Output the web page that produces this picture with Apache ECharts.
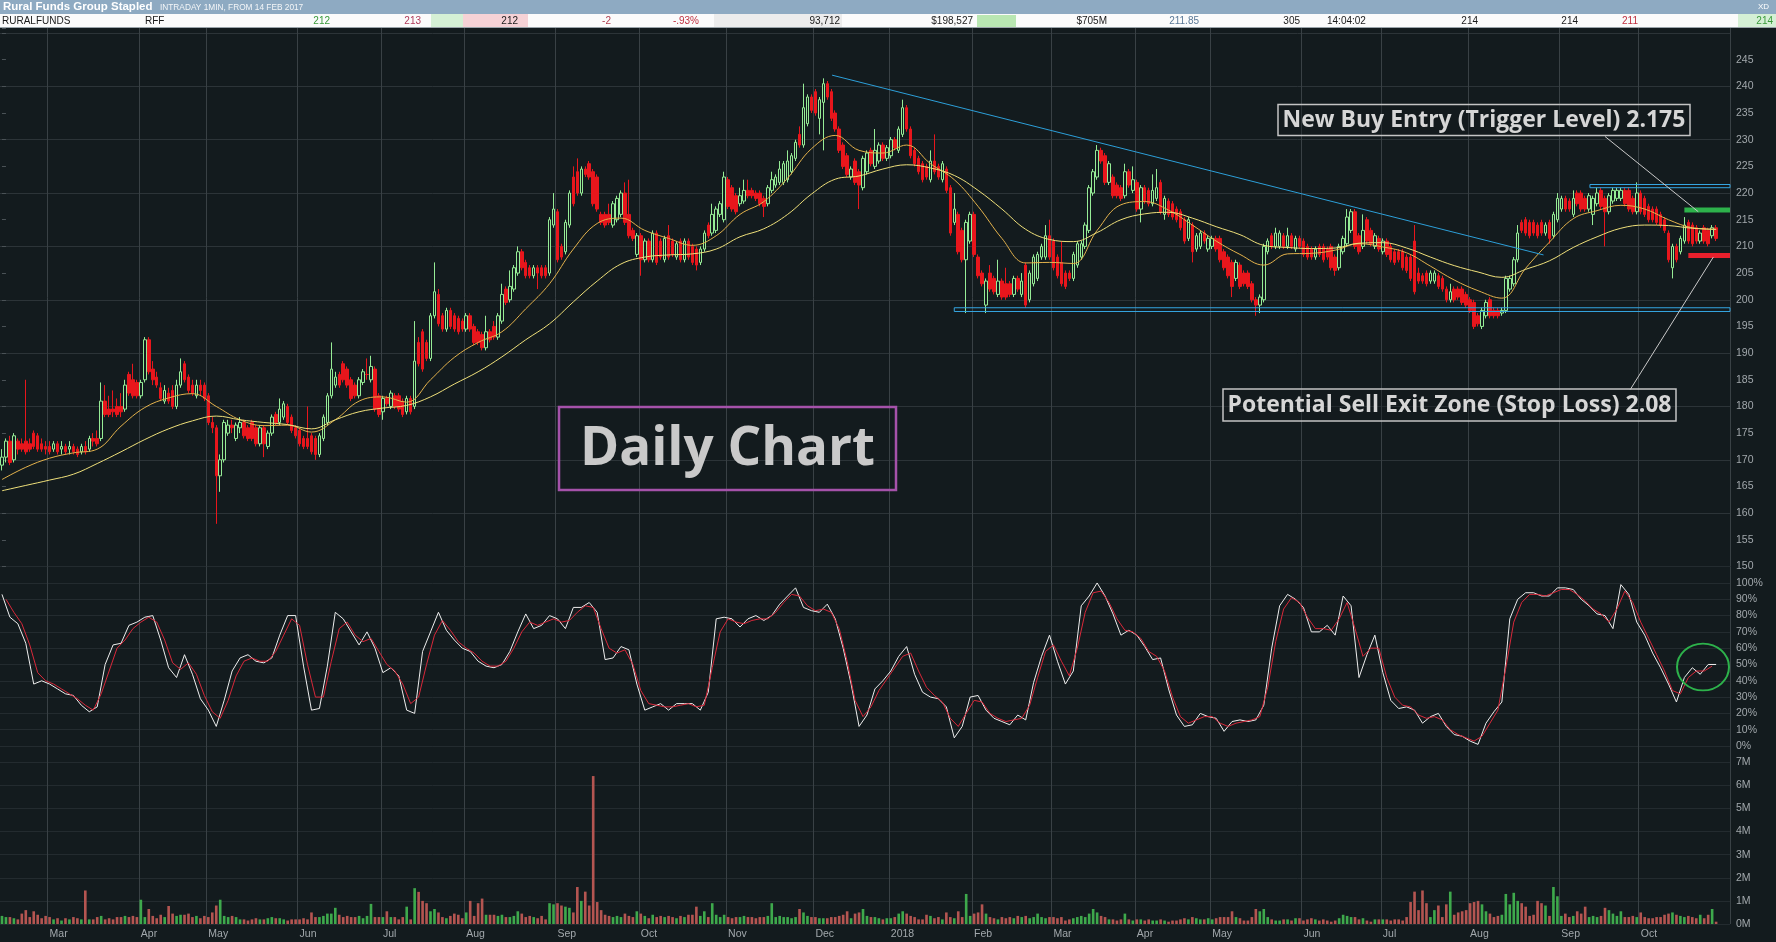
<!DOCTYPE html>
<html><head><meta charset="utf-8">
<script src="https://cdn.jsdelivr.net/npm/echarts/dist/echarts.min.js"></script>
<style>html,body{margin:0;padding:0;background:#131b1e;overflow:hidden}#c{width:1776px;height:942px}</style>
</head><body><div id="c"></div>
<script>
// ---------- DATA ----------
const monthLabels = ['Mar','Apr','May','Jun','Jul','Aug','Sep','Oct','Nov','Dec','2018','Feb','Mar','Apr','May','Jun','Jul','Aug','Sep','Oct'];
const monthStart  = [12,35,52,75,96,117,140,161,183,205,224,245,265,286,305,328,348,370,393,413];
const slotCount = 436;
const priceTicks = [150,155,160,165,170,175,180,185,190,195,200,205,210,215,220,225,230,235,240,245];

// daily candles [open, close, low, high] (cents)
const ohlc = [
// Feb 2017
[169,170.5,168,172],[170.5,173.5,169.5,174],[173.5,169.5,169,174.5],[170,174.5,169.5,175],[173.5,172,171,174],[173,172,171.5,174],[173.5,171.5,171,185],[173,172,171.5,174],[175,172.5,172,175.5],[174.5,172,171.5,175],[173,172,171.5,174],[172.5,172,171,173.5],
// Mar
[172.5,171.5,171,173.5],[172,173,171.5,173.5],[173,171.5,171,173.5],[172,172.5,171,173.5],[172.5,171.5,171,173],[172,172.5,171,173.5],[172.5,171.5,171,173],[172,171,170.5,172.5],[171.5,172.5,171,173],[172.5,171.5,171,173.5],[172,174,171.5,174.5],[174,173.5,172.5,175],[174,173,172.5,175.5],[174,181,173.5,184.5],[181,178.5,178,184],[179.5,178.5,178,182],[179.5,179,178,183],[180,178.5,178,181.5],[180,179,178,182.5],[179.5,184,179,185],[186,182.5,182,186.5],[185,182,181.5,188],[184.5,182,181.5,185],
// Apr
[182,184.5,181.5,185],[185,192.5,184.5,193],[192.5,186.5,186,193],[187,185,184,188.5],[185.5,184,183.5,186.5],[183.5,181.5,181,184.5],[181,183,180.5,184],[182.5,181,180.5,183.5],[183,180,179.5,184],[180,184,179.5,185],[184,186.5,183.5,189],[188,185,184.5,188.5],[185.5,183,182.5,186],[184,182.5,182,185],[182,184,181.5,185],[184,183,182,185],[184,181.5,181,184.5],
// May
[182,177,176.5,182.5],[177,176,175,178],[176,167,158,176.5],[167,170,164,171],[170,177,169.5,177.5],[175,176.5,174.5,177.5],[176.5,176,175,177.5],[174,176.5,173.5,177],[176,177,175,178],[177,174.5,174,177.5],[176,174,173.5,176.5],[177,174,173.5,177.5],[176,173,172.5,176.5],[173,176,172.5,176.5],[176,173,170.5,176.5],[172.5,175,172,175.5],[175,178,174.5,178.5],[178.5,177,176.5,179],[177,179.5,176.5,181.5],[178,180.5,177.5,181],[180,177,176.5,180.5],[178,175.5,175,178.5],[176,174.5,174,176.5],
// Jun
[175.5,173,172.5,176],[174,172.5,172,174.5],[174,172.5,172,180],[174.5,171.5,171,175],[174,171,170,174.5],[171,174.5,170.5,175],[174,178,173.5,178.5],[177,182,176.5,182.5],[182,187,181.5,192],[184,185.5,183.5,186.5],[186,184,183.5,186.5],[188,185,184.5,188.5],[187,184,183.5,187.5],[185,181.5,181,185.5],[184,182,181.5,184.5],[182,185,181.5,185.5],[184.5,186.5,184,187],[186,186,185,189],[185,187.5,184.5,189.5],[187,179.5,179,187.5],[182,178.5,178,182.5],
// Jul
[179,181.5,177.5,182],[181.5,180.5,180,182],[180,182.5,179.5,183],[182,180,179.5,182.5],[182,179.5,179,182.5],[181,178.5,178,181.5],[179,181.5,178.5,182],[181.5,179,178.5,182],[180,188.5,179.5,196],[192,188,187.5,193],[194,187,186.5,194.5],[192,189,188.5,192.5],[189,197,188.5,197.5],[197,201.5,196.5,207],[201,195.5,195,202],[197,194.5,194,197.5],[194.5,198,194,198.5],[198,195,194.5,198.5],[197,194.5,194,197.5],[196.5,194,193.5,197],[196,194.5,194,196.5],
// Aug
[194.5,197,194,197.5],[197,194.5,194,197.5],[195,192,191.5,195.5],[194,192,191.5,194.5],[193.5,191,190.5,194],[191,194,190.5,197],[194,192.5,192,194.5],[195,193,192.5,196],[193,197,192.5,197.5],[196,201,195.5,203],[202,199.5,199,202.5],[200,202.5,199.5,205.5],[202,206,201.5,206.5],[205,209,204.5,210],[209,206,205.5,209.5],[207,204.5,204,207.5],[206,204.5,204,206.5],[204.5,206,204,206.5],[206,205,202,206.5],[206,204.5,204,206.5],[206,204.5,204,206.5],[205,215,204.5,215.5],[214,217,213.5,220],
// Sep
[216.5,207.5,207,217],[210,208,207.5,210.5],[209,214.5,208.5,215],[214,220,213.5,220.5],[223,218,217.5,225],[224,220,219.5,226.5],[220,224.5,219.5,225],[224.5,223.5,223,225],[225.5,223,222.5,226],[224,218,217.5,224.5],[223,217,216.5,223.5],[216,214.5,214,216.5],[216,214,213.5,216.5],[216,214.5,214,218],[214,218,213.5,218.5],[215,219,214.5,219.5],[216,220,215.5,220.5],[220,214.5,214,222],[216,212,211.5,222.5],[213,211.5,211,213.5],[208.5,212,208,212.5],
// Oct
[212,207.5,204.5,212.5],[207.5,211,207,211.5],[211,207.5,207,211.5],[207.5,212.5,207,213],[212.5,207,206.5,213],[211,208,207.5,211.5],[207.5,211.5,207,212],[212,208,207.5,214],[211,208.5,208,211.5],[208,210.5,207.5,211],[211,207.5,207,211.5],[207.5,211,207,211.5],[211,208,207.5,211.5],[210,207,206.5,210.5],[209.5,206.5,205.5,210],[207,209.5,206.5,210],[209.5,212.5,209,213],[214,212,211.5,214.5],[212.5,216,212,218],[213,217,212.5,217.5],[216,218,215.5,218.5],[215,223,214.5,224],
// Nov
[222.5,217.5,217,223],[221,217,216.5,221.5],[219.5,216.5,216,220],[218,219.5,217.5,221],[218.5,220.5,218,222.5],[220.5,219.5,219,222.5],[220.5,219.5,219,221],[220,219,218.5,220.5],[220,218,217.5,220.5],[219,217.5,215.5,219.5],[218,221,217.5,221.5],[220.5,222.5,220,224],[221.5,223,221,223.5],[222,224.5,221.5,226],[222,225.5,221.5,226],[222.5,226,222,228],[224,227,223.5,227.5],[226.5,229.5,226,230],[231,229,228.5,232.5],[229,236,228.5,240.5],[233,238,232.5,238.5],[238,235.5,235,238.5],
// Dec
[239,235,234.5,239.5],[234,237.5,231,238],[237,240.5,228,241.5],[240.5,238,237.5,241],[239,234,233.5,239.5],[235,232,231.5,235.5],[232,228,227.5,232.5],[229,225,224.5,229.5],[227,223.5,223,227.5],[223,224.5,222.5,225],[226,222,221.5,226.5],[224,221.5,217,224.5],[221,226.5,220.5,227],[224,227.5,223.5,228],[228,225.5,225,228.5],[225,228,224.5,232],[226,229,225.5,229.5],[229,226.5,226,229.5],[226.5,228.5,226,229],
// Jan 2018
[227,230,226.5,230.5],[230,228.5,228,230.5],[228,232,227.5,232.5],[231,236,230.5,237.5],[236,232,231.5,236.5],[232,227,226.5,232.5],[228,225.5,225,228.5],[226.5,224,223.5,227],[225.5,222.5,222,226],[225,223,222.5,225.5],[222.5,226,222,228],[226,224,223.5,231],[225,223,222.5,225.5],[222.5,225.5,222,226],[224.5,220.5,220,225],[221,212.5,212,221.5],[214.5,217,214,220],[216,209,208.5,216.5],[213,207.5,207,213.5],[207.5,214.5,197.5,215],[211,216,210.5,216.5],
// Feb
[216,208.5,208,216.5],[208,204.5,204,208.5],[205,203,202.5,205.5],[199,203.5,197.5,204],[205,202,201.5,206.5],[204,201.5,201,204.5],[201,203.5,200.5,207.5],[203.5,200.5,200,204],[203,200.5,200,206],[203,201,200.5,203.5],[201,204,200.5,204.5],[204,202,201.5,204.5],[201,203.5,200.5,205],[206.5,199,198.5,207],[200,205,199.5,205.5],[203,208,202.5,208.5],[204,208.5,203.5,209],[208,210,207.5,210.5],[208,212,207.5,214],[212,208,207.5,215],
// Mar
[211,206,205.5,211.5],[208,204.5,204,208.5],[207,203,202.5,211],[205,202.5,202,205.5],[205,204,203.5,205.5],[204,208.5,203.5,209],[206.5,210.5,206,211],[208,210.5,207.5,211],[210,214,209.5,214.5],[213,221,212.5,221.5],[220,224,219.5,224.5],[223,228,222.5,229],[228,226,225.5,228.5],[227,222,221.5,227.5],[222,225.5,221.5,226],[223,219.5,219,223.5],[221.5,219.5,219,222],[221,219,218.5,221.5],[219.5,224,219,225.5],[224,221.5,221,224.5],[220.5,222.5,220,225],
// Apr
[222,217,216.5,222.5],[217,221,214.5,221.5],[221,218.5,218,221.5],[220.5,218,217.5,221],[218,220.5,217.5,223.5],[219,221,218.5,224.5],[222,216.5,216,222.5],[216,219,215,219.5],[218.5,216,215.5,219],[218,215.5,215,218.5],[217,215,214.5,217.5],[216.5,213.5,213,217],[215,211,210.5,215.5],[211.5,215,211,215.5],[214,209,207,214.5],[209.5,212,209,212.5],[210,212.5,209.5,213],[212.5,211,210.5,213],[209.5,211.5,209,212],
// May
[210,211.5,209.5,212],[211.5,209.5,209,212],[211.5,207.5,207,212],[209,206,205.5,209.5],[208,204.5,204,208.5],[207,202.5,200.5,207.5],[204,207,203.5,207.5],[206.5,202.5,202,207],[205,203,202.5,205.5],[205,202.5,202,205.5],[203,200,199.5,203.5],[200,199,197,200.5],[199,200.5,197.5,201],[200,210,199.5,210.5],[209,211,208.5,211.5],[212,210,209.5,212.5],[210,212.5,209.5,213.5],[210,212.5,209.5,213],[212,210,209.5,212.5],[210,212,209.5,213.5],[212,210,209.5,212.5],[209.5,211.5,209,212],[211.5,210,209.5,212],
// Jun
[211,208.5,208,211.5],[210,208,207.5,210.5],[209.5,208,207.5,210],[208,209.5,207.5,210],[210,208.5,208,210.5],[210,207.5,207,210.5],[209.5,208,207.5,210],[210,206,205.5,210.5],[208,205.5,204.5,208.5],[206,210,205.5,210.5],[209,211.5,208.5,212],[210.5,215.5,210,217],[213,216.5,212.5,217],[216.5,210,209.5,217],[212,209,208.5,212.5],[210,213,209.5,216],[215,211,210.5,215.5],[213,210.5,210,213.5],[210,212,209.5,212.5],[211.5,209.5,209,212],
// Jul
[209,211,208.5,211.5],[211,208.5,208,211.5],[210,207.5,207,210.5],[209,207,206.5,209.5],[209,207.5,207,209.5],[209,206,205.5,209.5],[208,205.5,205,208.5],[208,204,203.5,208.5],[211,201.5,201,214],[205,203.5,203,206],[204.5,203.5,203,205],[205,203,202.5,205.5],[203.5,205,203,205.5],[203.5,205,203,205.5],[204.5,202.5,202,205],[204,202,201.5,204.5],[202,200,199.5,202.5],[200,201.5,199.5,203],[202,200,199.5,202.5],[202,200.5,200,202.5],[202,199.5,199,202.5],[201,199,198.5,201.5],
// Aug
[200,198,197.5,200.5],[199.5,195,194.5,200],[197,195.5,195,197.5],[195,198,194.5,198.5],[197,199.5,196.5,200],[200,197,196.5,200.5],[198,197,196.5,198.5],[198,197,196.5,198.5],[197.5,198,197,198.5],[198,204,197.5,204.5],[202,204,201.5,204.5],[203,207.5,202.5,208],[207.5,212.5,207,214],[214.5,213,212.5,215],[215,212.5,212,215.5],[214.5,212,211.5,215],[214.5,212.5,212,215],[214,212,211.5,214.5],[214.5,212.5,212,215],[212.5,214,212,214.5],[214.5,211.5,210.5,215],[212,216,211.5,216.5],[215,219,214.5,220],
// Sep
[217,219,216.5,219.5],[219,217,216.5,219.5],[218.5,217,216.5,219],[216,219,215.5,220.5],[220,218,217.5,220.5],[220,217,216.5,220.5],[219,217,216.5,219.5],[217,219.5,216.5,220],[216,219,214,219.5],[218,220,217.5,221],[220.5,217.5,217,221],[219,216.5,210,219.5],[216.5,219.5,216,220],[218.5,220.5,218,221],[219,220.5,218.5,221],[219,220.5,218.5,221],[220.5,218,217.5,221],[220.5,217,216.5,221],[219,216.5,216,219.5],[216.5,220,216,222],
// Oct
[220,216.5,216,220.5],[219,216,215.5,219.5],[217.5,215,214.5,218],[217,215,214.5,217.5],[217,214.5,214,217.5],[216,214,213.5,216.5],[215,213,212.5,215.5],[212.5,207.5,207,213],[206,210,204,210.5],[210,207.5,207,210.5],[209,211.5,208.5,212],[211,214,210.5,215.5],[214.5,211,210.5,215],[214,210.5,210,214.5],[213.5,211,210.5,214],[211,212.5,210.5,213],[213.5,211,210.5,214],[213,210.5,210,213.5],[212,213.5,211.5,214],[213.5,211.5,211,214]
];

// daily volume (millions)
const volume = [
0.35,0.3,0.3,0.25,0.2,0.45,0.6,0.3,0.55,0.4,0.25,0.35,
0.3,0.2,0.25,0.15,0.25,0.2,0.3,0.25,0.2,1.45,0.2,0.2,0.3,0.35,0.2,0.25,0.2,0.3,0.3,0.35,0.3,0.35,0.3,
1.05,0.3,0.65,0.35,0.25,0.4,0.3,0.78,0.45,0.35,0.4,0.4,0.45,0.3,0.35,0.25,0.35,
0.3,0.5,0.8,1.05,0.35,0.3,0.35,0.3,0.2,0.2,0.15,0.2,0.25,0.2,0.2,0.25,0.3,0.25,0.25,0.2,0.15,0.2,0.2,
0.2,0.25,0.2,0.5,0.3,0.3,0.35,0.45,0.45,0.7,0.4,0.3,0.35,0.3,0.3,0.35,0.25,0.35,0.87,0.3,0.3,
0.3,0.55,0.3,0.3,0.2,0.3,0.75,0.2,1.55,1.39,1.0,0.9,0.55,0.65,0.5,0.3,0.25,0.35,0.45,0.4,0.25,
0.5,1.0,0.35,0.9,1.1,0.4,0.4,0.4,0.35,0.4,0.3,0.3,0.35,0.55,0.45,0.3,0.35,0.3,0.25,0.35,0.2,0.9,0.85,
0.9,0.8,0.75,0.7,0.5,1.6,1.0,1.4,0.8,6.4,0.95,0.6,0.4,0.35,0.3,0.35,0.3,0.45,0.35,0.3,0.55,
0.45,0.35,0.25,0.4,0.3,0.35,0.3,0.35,0.3,0.25,0.35,0.3,0.4,0.4,0.75,0.35,0.55,0.3,0.9,0.4,0.3,0.4,
0.3,0.25,0.3,0.3,0.35,0.3,0.3,0.25,0.3,0.3,0.35,0.9,0.3,0.35,0.3,0.3,0.25,0.3,0.65,0.5,0.35,0.3,
0.3,0.25,0.25,0.25,0.3,0.3,0.35,0.4,0.55,0.25,0.45,0.5,0.65,0.35,0.3,0.3,0.25,0.2,0.25,
0.25,0.3,0.45,0.55,0.45,0.35,0.3,0.2,0.2,0.4,0.35,0.25,0.3,0.2,0.5,0.3,0.25,0.55,0.3,1.3,0.35,
0.45,0.5,0.85,0.45,0.3,0.25,0.2,0.3,0.25,0.3,0.25,0.35,0.3,0.35,0.25,0.3,0.45,0.3,0.25,0.3,
0.3,0.25,0.3,0.15,0.2,0.25,0.3,0.35,0.3,0.45,0.65,0.5,0.35,0.3,0.2,0.2,0.15,0.2,0.45,0.2,0.15,
0.2,0.2,0.15,0.2,0.15,0.15,0.2,0.15,0.1,0.15,0.15,0.2,0.25,0.2,0.3,0.25,0.2,0.2,0.25,
0.2,0.25,0.3,0.3,0.3,0.55,0.3,0.25,0.15,0.15,0.3,0.65,0.55,0.65,0.3,0.2,0.15,0.15,0.2,0.2,0.15,0.25,0.25,
0.15,0.2,0.25,0.2,0.15,0.2,0.15,0.1,0.15,0.25,0.4,0.35,0.3,0.3,0.2,0.25,0.15,0.1,0.2,0.2,
0.2,0.2,0.15,0.2,0.2,0.15,0.3,0.95,1.4,0.6,1.45,0.9,0.3,0.6,0.8,0.3,0.85,1.4,0.4,0.5,0.55,0.6,
0.9,0.95,1.0,0.85,0.55,0.45,0.3,0.35,0.4,1.3,0.85,1.35,1.0,0.9,0.75,0.35,0.4,1.0,0.9,0.8,0.35,1.6,1.2,
0.35,0.45,0.3,0.35,0.55,0.45,0.75,0.3,0.35,0.3,0.35,0.7,0.6,0.45,0.35,0.55,0.3,0.3,0.35,0.3,
0.5,0.3,0.25,0.25,0.3,0.3,0.4,0.45,0.5,0.4,0.35,0.3,0.35,0.3,0.25,0.4,0.25,0.4,0.65,0.1
];

// stochastic %K (every 2nd day from day 0) and %D (every 2nd day from day 1)
const stochK = [93,79,75,63,38,40,38,35,32,31,25,21,24,50,62,63,74,76,79,80,65,48,42,56,44,29,22,12,28,46,54,56,52,51,54,68,80,80,49,22,23,49,82,78,70,62,70,60,45,48,43,22,20,58,70,82,71,65,60,58,52,49,48,50,58,70,81,72,74,80,78,72,85,85,88,82,53,54,61,59,38,22,24,26,22,26,26,26,22,33,78,79,78,73,78,80,77,80,87,92,97,85,83,82,87,78,60,38,12,19,35,40,46,55,61,44,33,30,29,24,5,12,30,31,22,17,15,13,19,16,39,55,68,52,38,46,86,92,100,92,81,68,71,68,61,53,54,35,19,12,13,20,18,17,9,15,16,15,16,25,60,86,93,90,85,70,70,74,68,92,86,42,56,68,45,28,23,24,22,14,18,20,12,7,6,3,1,14,21,27,78,90,94,94,92,92,97,97,96,90,86,81,80,72,99,93,76,68,57,48,38,27,42,48,44,50,50];
const stochD = [90,82,75,62,45,40,38,35,32,29,25,22,32,46,60,65,72,76,79,76,65,51,47,51,44,31,21,17,28,43,52,54,52,52,58,68,78,74,50,30,30,52,72,76,68,64,66,58,50,46,38,26,30,50,68,77,71,64,60,57,52,49,49,52,60,70,76,74,76,78,76,77,82,86,85,72,60,57,59,50,34,26,25,24,24,25,26,24,25,48,70,78,76,75,77,78,78,82,88,93,92,86,83,84,82,72,52,28,18,24,34,41,48,55,57,46,36,31,27,17,12,20,28,27,20,17,15,16,17,25,42,58,62,52,43,60,82,94,95,88,78,71,70,66,58,55,46,30,18,14,16,18,18,14,12,14,15,16,18,36,64,84,91,88,79,72,72,71,78,88,72,55,60,60,42,30,25,24,19,17,18,16,10,7,5,3,6,14,22,48,76,88,93,93,92,94,96,96,93,89,84,81,76,84,95,88,76,66,56,46,34,32,42,46,46,49];

// moving averages (every 6th day from day 0)
const maFast = [166.3,168.6,170.3,171.3,172,176.3,179.8,181.6,182.4,180,177.5,176.4,176.5,175.2,177.5,181,181.8,180.8,185,189.2,192,194,198.3,203,209.5,214.3,215.3,213,211.5,210.2,212,216,218.4,222.8,228.3,230.8,228,227.5,229,225.5,222.5,217.5,211.5,206.9,207,206.8,213,217.8,218.4,216.8,214,211,208.5,206.5,208.6,208.7,209.3,210.5,209.9,208.8,206.3,203.7,201.7,200.3,205.9,210.8,215.2,216.7,217.7,217,215,213.5,213.2];
const maSlow = [164.2,165.2,166.2,167.3,169.3,171.5,173.8,175.8,177.3,178.2,177.5,177,176.6,175.8,177.5,179,179.7,180.2,181.8,184.2,186.5,189.3,192.5,195.5,199.6,203.5,206.7,208,208.4,208.6,209.5,211.8,213.3,216,219.8,222.6,223.2,224.5,225.3,224.7,223.3,220.5,217,213.2,211.3,210.9,212.6,215,216.1,216.4,215.3,213.7,212.2,210.2,209.8,209.6,209.7,210.6,210.7,209.7,208,206.4,205.2,204.2,205.7,207.3,209.8,211.8,213.4,214,213.9,213.4,213.2];

// annotations in data space [day, price]
const trendLine   = [[209.2,242.1],[388.5,208.4]];
const supportBox  = {from:240, to:435.5, lo:197.8, hi:198.5};
const resistBox   = {from:400.2, to:435.5, lo:221.0, hi:221.6};
const buyLevel    = {from:424, to:435.5, value:216.8};
const stopLevel   = {from:425, to:435.5, value:208.3};
const buyCallout  = [[404,230.6],[427.5,216.5]];
const stopCallout = [[410.3,183.1],[431.3,208.0]];

// ---------- CHART ----------
const BG = '#131b1e';
const UP = '#96ec96', DOWN = '#e8161c';
const VUP = '#3ea94c', VDOWN = '#b45551';
const AXC = '#a2a8ac';
const LBLFONT = 'Liberation Sans';
const monthMap = {}; monthStart.forEach((s,k)=>monthMap[s]=monthLabels[k]);
const isMonth = (i)=> monthMap[i] !== undefined;
const cats = Array.from({length: slotCount}, (_, i) => String(i));

const gridL = 0, gridR = 46;
const grids = [
  {left:gridL, right:gridR, top:28, height:538.5},
  {left:gridL, right:gridR, top:566.5, height:179.5},
  {left:gridL, right:gridR, top:746, height:178}
];
function xCat(g, showLabel){
  return {type:'category', gridIndex:g, data:cats, boundaryGap:true,
    axisLine:{show:false}, axisTick:{show:false},
    axisLabel:{show:showLabel, interval:(i)=>isMonth(i), formatter:(v,i)=>monthMap[i]||'',
      align:'left', color:AXC, fontSize:10.5, fontFamily:LBLFONT, margin:5},
    splitLine:{show:true, interval:(i)=>isMonth(i), lineStyle:{color:'#394145', width:1}}};
}
const priceMax = 150 + 538.5/5.335;
const yAxes = [
  {type:'value', gridIndex:0, position:'right', min:150, max:priceMax, interval:5,
   axisLine:{show:false}, axisTick:{show:true, length:4, lineStyle:{color:'#4a5256'}},
   axisLabel:{color:AXC, fontSize:10.5, fontFamily:LBLFONT, margin:6,
     formatter:(v)=> priceTicks.indexOf(Math.round(v*100)/100)>=0 ? String(v) : ''},
   splitLine:{show:true, lineStyle:{color:['#2c3438','rgba(0,0,0,0)']}}},
  {type:'value', gridIndex:1, position:'right', min:0, max:110.1, interval:10,
   axisLine:{show:false}, axisTick:{show:false},
   axisLabel:{color:AXC, fontSize:10.5, fontFamily:LBLFONT, margin:6,
     formatter:(v)=> (v<=100 && Math.abs(v-Math.round(v))<1e-6) ? v+'%' : ''},
   splitLine:{show:true, lineStyle:{color:'#232b2f'}}},
  {type:'value', gridIndex:2, position:'right', min:0, max:7.7, interval:1,
   axisLine:{show:false}, axisTick:{show:false},
   axisLabel:{color:AXC, fontSize:10.5, fontFamily:LBLFONT, margin:6,
     formatter:(v)=> (v<=7 && Math.abs(v-Math.round(v))<1e-6) ? v+'M' : ''},
   splitLine:{show:true, lineStyle:{color:'#232b2f'}}}
];
const xAxes = [xCat(0,false), xCat(1,false), xCat(2,true),
  {type:'value', gridIndex:0, min:-0.5, max:slotCount-0.5, show:false}];

function ann(data, color, width){
  return {type:'line', xAxisIndex:3, yAxisIndex:0, data:data, showSymbol:false, symbol:'none',
    silent:true, z:5, lineStyle:{color:color, width:width}};
}
function box(b, color){
  return ann([[b.from,b.lo],[b.to,b.lo],[b.to,b.hi],[b.from,b.hi],[b.from,b.lo]], color, 1);
}
function level(l, color){ return ann([[l.from,l.value],[l.to,l.value]], color, 5); }

const series = [
  {type:'candlestick', xAxisIndex:0, yAxisIndex:0, data:ohlc, barWidth:3, z:3,
   itemStyle:{color:BG, color0:DOWN, borderColor:UP, borderColor0:DOWN, borderWidth:1}},
  {type:'line', xAxisIndex:0, yAxisIndex:0, data:maFast.map((v,i)=>[i*6,v]), showSymbol:false, symbol:'none', smooth:0.4, z:4,
   lineStyle:{color:'#e3b24c', width:1}},
  {type:'line', xAxisIndex:0, yAxisIndex:0, data:maSlow.map((v,i)=>[i*6,v]), showSymbol:false, symbol:'none', smooth:0.4, z:4,
   lineStyle:{color:'#efe07a', width:1}},
  {type:'line', xAxisIndex:1, yAxisIndex:1, data:stochK.map((v,i)=>[i*2,v]), showSymbol:false, symbol:'none', z:3,
   lineStyle:{color:'#eeeeee', width:1}},
  {type:'line', xAxisIndex:1, yAxisIndex:1, data:stochD.map((v,i)=>[i*2+1,v]), showSymbol:false, symbol:'none', z:4,
   lineStyle:{color:'#d9283a', width:1}},
  {type:'bar', xAxisIndex:2, yAxisIndex:2, barWidth:'66%',
   data:volume.map((v,i)=>({value:v, itemStyle:{color: (ohlc[i] && ohlc[i][1]>=ohlc[i][0]) ? VUP : VDOWN}}))},
  ann(trendLine, '#2c9fd9', 1),
  box(supportBox, '#35a6e2'),
  box(resistBox, '#35a6e2'),
  level(buyLevel, '#2db24b'),
  level(stopLevel, '#e8202c'),
  ann(buyCallout, '#c9c9c9', 1),
  ann(stopCallout, '#c9c9c9', 1)
];

// header + callout text boxes
const HF = '"Liberation Sans"';
function txt(x, y, s, color, align, font){
  return {type:'text', x:x, y:y, z:100, style:{text:s, fill:color, align:align||'left', verticalAlign:'middle', font:font||('10px '+HF)}};
}
const graphic = [
  {type:'rect', z:90, shape:{x:0,y:0,width:1776,height:14}, style:{fill:'#8eaac2'}},
  txt(3, 7, 'Rural Funds Group Stapled', '#ffffff', 'left', 'bold 11.5px '+HF),
  txt(160, 7.5, 'INTRADAY 1MIN, FROM 14 FEB 2017', '#f4f6f8', 'left', '8.3px '+HF),
  txt(1758, 7, 'XD', '#ffffff', 'left', '8px '+HF),
  {type:'rect', z:90, shape:{x:0,y:14,width:1776,height:14}, style:{fill:'#fbfbfb'}},
  {type:'rect', z:91, shape:{x:431,y:14,width:32,height:14}, style:{fill:'#d5f0d5'}},
  {type:'rect', z:91, shape:{x:463,y:14,width:65,height:14}, style:{fill:'#f6d2d6'}},
  {type:'rect', z:91, shape:{x:714,y:14,width:128,height:14}, style:{fill:'#ececec'}},
  {type:'rect', z:91, shape:{x:977,y:15,width:39,height:12}, style:{fill:'#b9e7b2'}},
  {type:'rect', z:91, shape:{x:1738,y:14,width:38,height:14}, style:{fill:'#d5f0d5'}},
  {type:'line', z:92, shape:{x1:0,y1:27.5,x2:1776,y2:27.5}, style:{stroke:'#9aa4aa', lineWidth:1}},
  txt(2, 21, 'RURALFUNDS', '#1a1a1a'),
  txt(145, 21, 'RFF', '#1a1a1a'),
  txt(330, 21, '212', '#3a9a3a', 'right'),
  txt(421, 21, '213', '#b03a5a', 'right'),
  txt(518, 21, '212', '#1a1a1a', 'right'),
  txt(611, 21, '-2', '#b04050', 'right'),
  txt(699, 21, '-.93%', '#c03040', 'right'),
  txt(840, 21, '93,712', '#1a1a1a', 'right'),
  txt(973, 21, '$198,527', '#1a1a1a', 'right'),
  txt(1107, 21, '$705M', '#1a1a1a', 'right'),
  txt(1199, 21, '211.85', '#5a7896', 'right'),
  txt(1300, 21, '305', '#1a1a1a', 'right'),
  txt(1327, 21, '14:04:02', '#1a1a1a', 'left'),
  txt(1478, 21, '214', '#1a1a1a', 'right'),
  txt(1578, 21, '214', '#1a1a1a', 'right'),
  txt(1638, 21, '211', '#c03040', 'right'),
  txt(1773, 21, '214', '#3a9a3a', 'right'),
  // callouts
  {type:'rect', z:60, shape:{x:1278,y:104.5,width:412,height:31}, style:{fill:'rgba(19,27,30,0.35)', stroke:'#c4c4c4', lineWidth:1.5}},
  txt(1484, 120.5, 'New Buy Entry (Trigger Level) 2.175', '#d6d6d6', 'center', 'bold 23px "Open Sans"'),
  {type:'rect', z:60, shape:{x:1223,y:389,width:453,height:32}, style:{fill:'rgba(19,27,30,0.35)', stroke:'#c4c4c4', lineWidth:1.5}},
  txt(1449.5, 405.5, 'Potential Sell Exit Zone (Stop Loss) 2.08', '#d6d6d6', 'center', 'bold 23px "Open Sans"'),
  {type:'rect', z:60, shape:{x:559,y:407,width:337,height:83}, style:{fill:'none', stroke:'#a552aa', lineWidth:2.5}},
  txt(727.5, 450, 'Daily Chart', '#c9c9c9', 'center', 'bold 53px "Open Sans"'),
  {type:'circle', z:60, x:1703, y:667, scaleY:0.9, shape:{cx:0, cy:0, r:26}, style:{fill:'none', stroke:'#2db24b', lineWidth:2}}
];

const chart = echarts.init(document.getElementById('c'), null, {renderer:'canvas'});
chart.setOption({
  backgroundColor: BG,
  animation:false,
  grid: grids,
  xAxis: xAxes,
  yAxis: yAxes,
  series: series,
  graphic: graphic
});
</script></body></html>
